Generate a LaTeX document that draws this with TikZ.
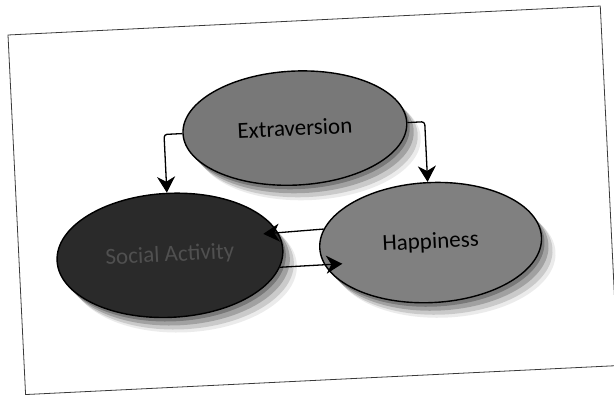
\documentclass[tikz,border=0pt]{standalone}
\usepackage{fontspec}
\setmainfont{Carlito}
\usetikzlibrary{shapes.geometric,arrows.meta,shadows}
\definecolor{extfill}{HTML}{787878}
\definecolor{socfill}{HTML}{2A2A2A}
\definecolor{hapfill}{HTML}{808080}
\definecolor{soctext}{HTML}{505050}
\definecolor{frameline}{HTML}{3A3A3A}
\tikzset{
  oval/.style={ellipse, draw=black, line width=1.4pt, inner sep=0pt, transform shape,
    font=\fontsize{23}{26}\selectfont,
    drop shadow={shadow xshift=3pt, shadow yshift=-4pt, fill=black, opacity=0.25},
    drop shadow={shadow xshift=7pt, shadow yshift=-8pt, fill=black, opacity=0.2},
    drop shadow={shadow xshift=11pt, shadow yshift=-12pt, fill=black, opacity=0.14},
    drop shadow={shadow xshift=14pt, shadow yshift=-15pt, fill=black, opacity=0.08}},
  arr/.style={draw=black, line width=1.3pt, rounded corners=3pt,
    -{Stealth[length=16pt,width=18pt,inset=5pt]}},
  framebox/.style={draw=frameline, line width=0.8pt}
}
\begin{document}
\begin{tikzpicture}[x=1pt,y=1pt]
\useasboundingbox (0,0) rectangle (614,396);
\clip (0,0) rectangle (614,396);
\begin{scope}[shift={(8,361)}, rotate=2.8, x=1pt, y=-1pt]
  \draw[framebox] (0,0) rectangle (593,360);
  \node[oval, fill=extfill, text=black, minimum width=224pt, minimum height=114pt] (ext) at (282,107) {Extraversion};
  \node[oval, fill=socfill, text=soctext, minimum width=226pt, minimum height=124pt] (soc) at (151,228) {Social Activity};
  \node[oval, fill=hapfill, text=black, minimum width=222pt, minimum height=120pt] (hap) at (412,228) {Happiness};
  \coordinate (c1) at (151,107);
  \coordinate (c2) at (412,107);
  \draw[arr] (ext.west) -- (c1) -- (soc.north);
  \draw[arr] (ext.east) -- (c2) -- (hap.north);
  \draw[arr, shorten >=-15pt] (hap.170.4) -- (soc.9.45);
  \draw[arr, shorten >=-18pt] (soc.-9.45) -- (hap.189.6);
\end{scope}
\end{tikzpicture}
\end{document}
